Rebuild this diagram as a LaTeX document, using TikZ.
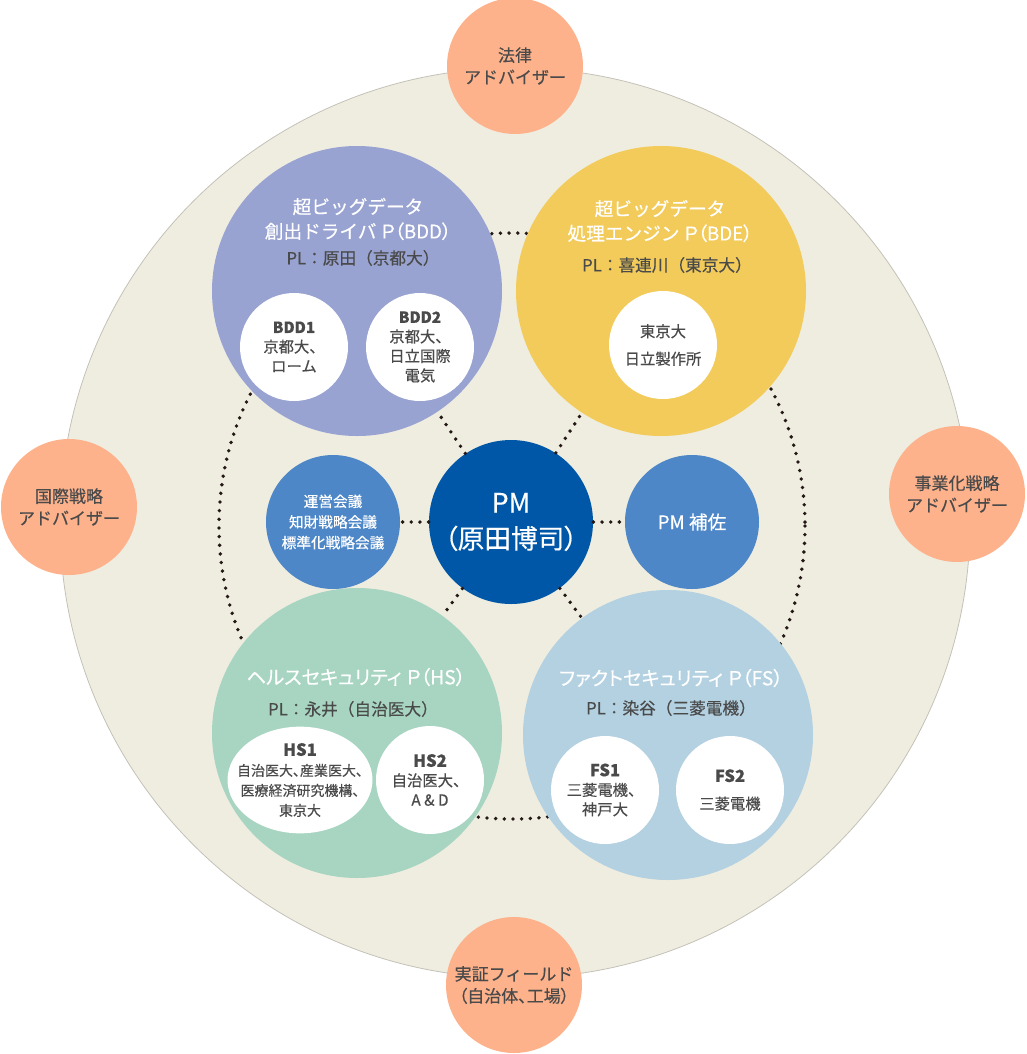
\documentclass[tikz,border=0pt]{standalone}
\usepackage{fontspec}
\setmainfont{Noto Sans CJK JP}[FakeBold=0.4]
\newfontfamily\propfont{Noto Sans CJK JP}[RawFeature={+palt},FakeBold=0.4]
\usepackage{tikz}
\usetikzlibrary{shapes.geometric}

\definecolor{beige}{HTML}{EFEDE0}
\definecolor{edgegray}{HTML}{C4C2B8}
\definecolor{advcol}{HTML}{FDB28B}
\definecolor{bddcol}{HTML}{98A3D2}
\definecolor{bdecol}{HTML}{F2CB5B}
\definecolor{hscol}{HTML}{A8D5C2}
\definecolor{fscol}{HTML}{B3D1E1}
\definecolor{pmcol}{HTML}{0157A7}
\definecolor{subcol}{HTML}{4E87C7}
\definecolor{txtgray}{HTML}{4A4A4A}
\definecolor{dotcol}{HTML}{231815}

\begin{document}
\begin{tikzpicture}[x=0.75pt, y=-0.75pt, semithick]
  \tikzstyle{advisor}=[fill=advcol,circle,minimum size=102pt,inner sep=0pt,text=txtgray,align=center,font=\fontsize{12.75}{16.5}\selectfont]
  \tikzstyle{project}=[circle,minimum size=217.5pt,inner sep=0pt]
  \tikzstyle{member}=[fill=white,circle,minimum size=81pt,inner sep=0pt,text=txtgray,align=center,font=\fontsize{11.5}{14.6}\selectfont]
  \tikzstyle{ptitle}=[text=white,align=center,font=\fontsize{14}{18.5}\selectfont]
  \tikzstyle{plname}=[text=txtgray,font=\fontsize{12.5}{16}\selectfont]
  \tikzstyle{hub}=[circle,inner sep=0pt,text=white,align=center]
  \tikzstyle{dotline}=[draw=dotcol,line width=2.9pt,line cap=round,dash pattern=on 0pt off 6.5pt]

  \useasboundingbox (0,0) rectangle (1027,1054);

  % background disc and dotted ring
  \draw[fill=beige,draw=edgegray,line width=0.6pt] (515,523) circle[radius=455];
  \draw[dotline] (512,526) circle[radius=293];

  % advisors
  \node[advisor] (law)   at (515,66)  {法律\\アドバイザー};
  \node[advisor] (intl)  at (69,507)  {国際戦略\\アドバイザー};
  \node[advisor] (biz)   at (957,494) {事業化戦略\\アドバイザー};
  \node[advisor] (field) at (514,985) {実証フィールド\\{\propfont（自治体、工場）}};

  % projects
  \node[project,fill=bddcol] (bdd) at (357,291) {};
  \node[ptitle] (bddtitle) at (358,219) {超ビッグデータ\\創出ドライバ {\propfont Ｐ（BDD）}};
  \node[plname] (bddpl) at (363,258) {PL：原田（京都大）};
  \node[member] (bdd1) at (294,347) {\textbf{BDD1}\\京都大、\\ローム};
  \node[member] (bdd2) at (420,347) {\textbf{BDD2}\\京都大、\\日立国際\\電気};

  \node[project,fill=bdecol] (bde) at (661,291) {};
  \node[ptitle] (bdetitle) at (660,221) {超ビッグデータ\\処理エンジン {\propfont Ｐ（BDE）}};
  \node[plname] (bdepl) at (667,265) {PL：喜連川（東京大）};
  \node[member] (bdem) at (663,345) {東京大\\[6pt]日立製作所};

  \node[project,fill=hscol] (hs) at (357,733) {};
  \node[ptitle,font=\propfont\fontsize{14.5}{18.5}\selectfont] (hstitle) at (356,677) {ヘルスセキュリティ Ｐ（HS）};
  \node[plname] (hspl) at (353,709) {PL：永井（自治医大）};
  \node[member,ellipse,minimum width=108.75pt,minimum height=80pt,inner xsep=-10pt,inner ysep=-2pt,font=\propfont\fontsize{10.5}{15}\selectfont] (hs1) at (300,780)
    {\textbf{\fontsize{12.5}{15}\selectfont HS1}\\自治医大、産業医大、\\医療経済研究機構、\\東京大};
  \node[member] (hs2) at (430,780) {\textbf{\fontsize{12.5}{15}\selectfont HS2}\\自治医大、\\A \& D};

  \node[project,fill=fscol] (fs) at (668,735) {};
  \node[ptitle,font=\propfont\fontsize{14.5}{18.5}\selectfont] (fstitle) at (671,678) {ファクトセキュリティ Ｐ（FS）};
  \node[plname] (fspl) at (671,708) {PL：染谷（三菱電機）};
  \node[member] (fs1) at (605,790) {\textbf{\fontsize{12.5}{15}\selectfont FS1}\\三菱電機、\\神戸大};
  \node[member] (fs2) at (730,790) {\textbf{\fontsize{12.5}{15}\selectfont FS2}\\[6pt]三菱電機};

  % centre
  \node[hub,fill=pmcol,minimum size=123pt,font=\propfont\fontsize{20}{27}\selectfont] (pm) at (511,522) {PM\\（原田博司）};
  \node[hub,fill=subcol,minimum size=100.5pt,font=\fontsize{11}{15.5}\selectfont] (meeting) at (333,522)
    {運営会議\\知財戦略会議\\標準化戦略会議};
  \node[hub,fill=subcol,minimum size=100.5pt,font=\fontsize{14}{18}\selectfont] (assist) at (692,522) {PM 補佐};

  \draw[dotline] (pm) -- (meeting);
  \draw[dotline] (pm) -- (assist);
  \draw[dotline] (pm) -- (bdd);
  \draw[dotline] (pm) -- (bde);
  \draw[dotline] (pm) -- (hs);
  \draw[dotline] (pm) -- (fs);

\end{tikzpicture}
\end{document}
